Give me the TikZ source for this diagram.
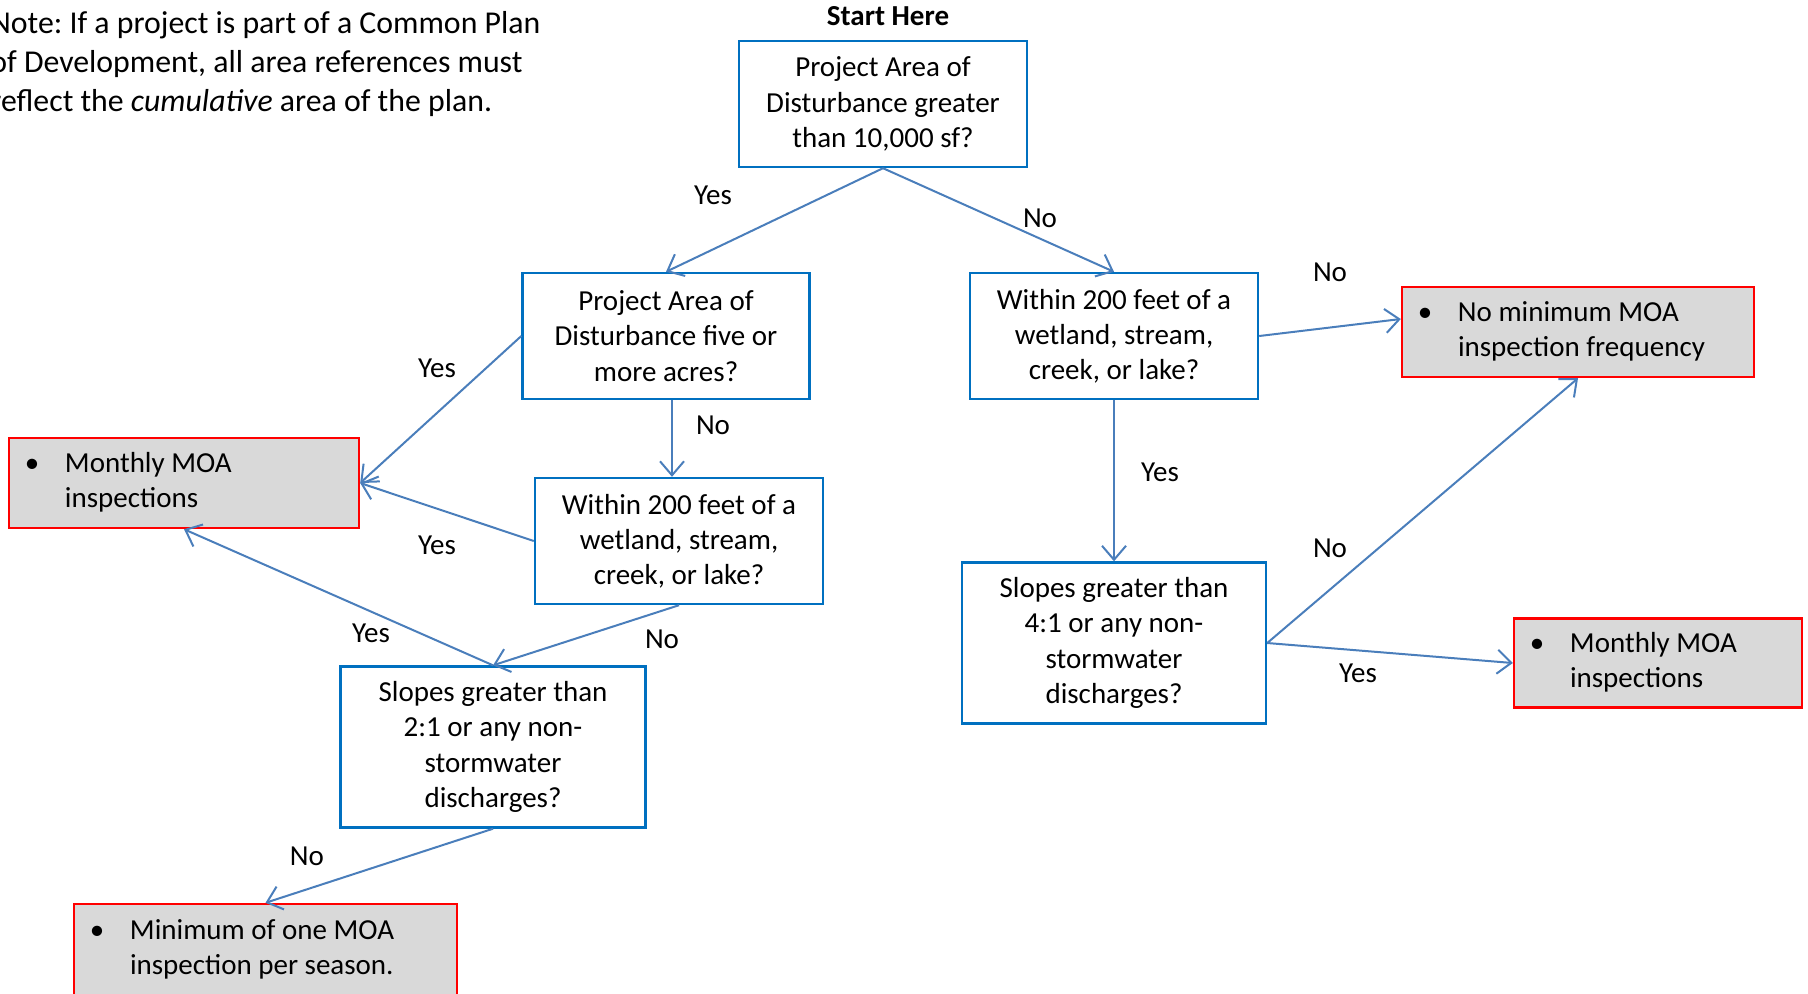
\documentclass[tikz,border=0pt]{standalone}
\usepackage{fontspec}
\setmainfont{Carlito}
\usetikzlibrary{arrows.meta}
\definecolor{boxblue}{RGB}{0,112,192}
\definecolor{lineblue}{RGB}{74,126,187}
\definecolor{moagray}{RGB}{217,217,217}
\newcommand\boxfont{\fontsize{14.5}{17.6}\selectfont}
\newcommand\moaitem[2]{\noindent\spaceskip=0pt\xspaceskip=0pt\hspace*{11.5pt}\makebox[0pt]{\textbullet}\hspace*{16.5pt}%
  \begin{tabular}[t]{@{}l@{}}#1\\#2\end{tabular}}
\tikzset{
  question/.style={draw=boxblue, line width=1.2pt, align=center, inner sep=0pt,
    minimum width=144pt, minimum height=63pt, font=\boxfont},
  outcome/.style={draw=red, fill=moagray, line width=1.2pt, inner sep=0pt,
    text width=#1, minimum width=#1, minimum height=45pt, font=\boxfont},
  flow/.style={draw=lineblue, line width=1pt, -{Straight Barb[length=7pt,width=12pt]}},
  answer/.style={font=\boxfont, inner sep=0pt}
}
\begin{document}
\begin{tikzpicture}[x=0.5pt,y=-0.5pt]
  \useasboundingbox (0,0) rectangle (1808,993);
  % note and start
  \node[align=left, anchor=base west, inner sep=0pt, font=\fontsize{15.9}{19.4}\selectfont\frenchspacing] (note) at (-10,111)
    {Note: If a project is part of a Common Plan\\of Development, all area references must\\reflect the \textit{cumulative} area of the plan.};
  \node[font=\boxfont\bfseries, inner sep=0pt] (start) at (888,16) {Start Here};
  % questions
  \node[question] (area) at (883,104) {Project Area of\\Disturbance greater\\than 10,000 sf?};
  \node[question, minimum width=143.5pt] (acres) at (666,336) {Project Area of\\Disturbance five or\\more acres?};
  \node[question] (nearR) at (1114,336) {Within 200 feet of a\\wetland, stream,\\creek, or lake?};
  \node[question] (nearL) at (679,541) {Within 200 feet of a\\wetland, stream,\\creek, or lake?};
  \node[question, minimum width=152.5pt, minimum height=80.5pt] (slopesL) at (493,747) {Slopes greater than\\2:1 or any non-\\stormwater\\discharges?};
  \node[question, minimum width=152pt, minimum height=80.5pt] (slopesR) at (1114,643) {Slopes greater than\\4:1 or any non-\\stormwater\\discharges?};
  % outcomes
  \node[outcome=175pt] (monthlyL) at (184,483) {\moaitem{Monthly MOA}{inspections}};
  \node[outcome=176pt] (nominimum) at (1578,332) {\moaitem{No minimum MOA}{inspection frequency}};
  \node[outcome=144pt, minimum height=44.5pt] (monthlyR) at (1658,663) {\moaitem{Monthly MOA}{inspections}};
  \node[outcome=191.5pt, minimum height=46pt] (perseason) at (265.5,950) {\moaitem{Minimum of one MOA}{inspection per season.}};
  % connectors
  \draw[flow] (area.south) -- (acres.north);
  \draw[flow] (area.south) -- (nearR.north);
  \draw[flow] (acres.west) -- (monthlyL.east);
  \draw[flow] ([xshift=3pt]acres.south) -- ([xshift=3pt]acres.south |- nearL.north);
  \draw[flow] (nearL.west) -- (monthlyL.east);
  \draw[flow] (nearL.south) -- (slopesL.north);
  \draw[flow] (slopesL.north) -- (monthlyL.south);
  \draw[flow] (slopesL.south) -- (perseason.north);
  \draw[flow] (nearR.east) -- ([yshift=6.5pt]nominimum.west);
  \draw[flow] (nearR.south) -- (slopesR.north);
  \draw[flow] (slopesR.east) -- (nominimum.south);
  \draw[flow] (slopesR.east) -- (monthlyR.west);
  % answers
  \node[answer] (yes1) at (713,195) {Yes};
  \node[answer] (no1) at (1040,218) {No};
  \node[answer] (yes2) at (437,368) {Yes};
  \node[answer] (no2) at (713,425) {No};
  \node[answer] (yes3) at (437,545) {Yes};
  \node[answer] (no3) at (662,639) {No};
  \node[answer] (yes4) at (371,633) {Yes};
  \node[answer] (no4) at (307,856) {No};
  \node[answer] (no5) at (1330,272) {No};
  \node[answer] (yes5) at (1160,472) {Yes};
  \node[answer] (no6) at (1330,548) {No};
  \node[answer] (yes6) at (1358,673) {Yes};
\end{tikzpicture}
\end{document}
